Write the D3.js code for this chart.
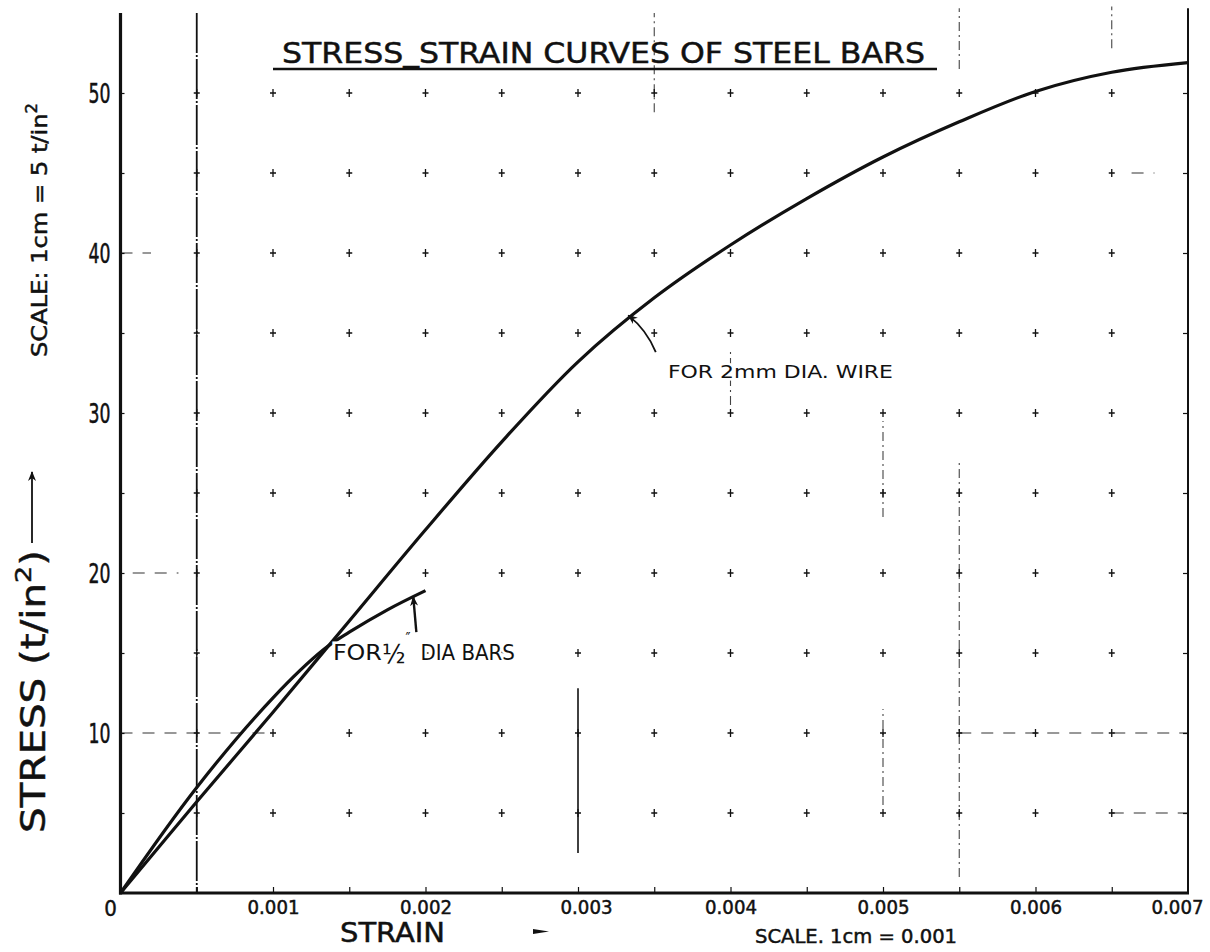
<!DOCTYPE html>
<html>
<head>
<meta charset="utf-8">
<title>Stress-strain curves of steel bars</title>
<script src="https://cdn.jsdelivr.net/npm/d3@7"></script>
<style>
	body { margin: 0; padding: 0; background: #fff; }
	svg text { font-family: "DejaVu Sans Condensed", "DejaVu Sans", sans-serif; fill: #111; stroke: #111; stroke-width: 0.45; }
	svg text.halo { paint-order: stroke; stroke: #fff; stroke-width: 5; }
</style>
</head>
<body>
<svg id="chart" width="1210" height="952"></svg>
<script>
// values
var wireStrain = [0, 0.0005, 0.001, 0.0015, 0.002, 0.0025, 0.003, 0.0035, 0.004, 0.0045, 0.005, 0.0055, 0.006, 0.0065, 0.007];
var wireStress = [0, 5.7, 11.3, 17.0, 22.7, 28.2, 33.2, 37.2, 40.5, 43.4, 46.0, 48.2, 50.1, 51.3, 51.9];

var barStrain = [0, 0.0005, 0.001, 0.00133, 0.0015, 0.00175, 0.002];
var barStress = [0, 6.6, 12.2, 15.2, 16.3, 17.7, 18.9];

var xTicks = [0.001, 0.002, 0.003, 0.004, 0.005, 0.006, 0.007];
var xTickLabels = ["0.001", "0.002", "0.003", "0.004", "0.005", "0.006", "0.007"];
var xMinor = [0.0005, 0.001, 0.0015, 0.002, 0.0025, 0.003, 0.0035, 0.004, 0.0045, 0.005, 0.0055, 0.006, 0.0065];
var yTicks = [10, 20, 30, 40, 50];
var yTickLabels = ["10", "20", "30", "40", "50"];
var yMinor = [5, 10, 15, 20, 25, 30, 35, 40, 45, 50];

// leftovers of the graph paper rulings: [strain, stress from, stress to]
var vRules = [[0.0035, 48.8, 55], [0.0055, 51.5, 55.3], [0.0065, 52.8, 55.4], [0.005, 23.5, 29.5], [0.005, 5.5, 11.5], [0.0055, 1, 27], [0.004, 30.5, 34]];
// [stress, strain from, strain to]
var hRules = [[10, 0, 0.001], [10, 0.0055, 0.007], [20, 0.00008, 0.00038], [40, 0, 0.0002], [5, 0.0065, 0.007], [45, 0.00663, 0.00678]];

var svg = d3.select("#chart");

var x = d3.scaleLinear().domain([0, 0.007]).range([120.5, 1188]);
var y = d3.scaleLinear().domain([0, 55]).range([893, 13]);

var defs = svg.append("defs");
defs.append("marker")
	.attr("id", "head")
	.attr("viewBox", "0 0 10 10")
	.attr("refX", 9).attr("refY", 5)
	.attr("markerWidth", 10).attr("markerHeight", 10)
	.attr("markerUnits", "userSpaceOnUse")
	.attr("orient", "auto")
	.append("path")
	.attr("d", "M0,1 L10,5 L0,9 L3,5 Z")
	.attr("fill", "#111");

// faint rulings
svg.append("g").selectAll("line").data(vRules).enter().append("line")
	.attr("x1", function(d) { return x(d[0]); })
	.attr("x2", function(d) { return x(d[0]); })
	.attr("y1", function(d) { return y(d[1]); })
	.attr("y2", function(d) { return y(d[2]); })
	.attr("stroke", "#444").attr("stroke-width", 1.1)
	.attr("stroke-dasharray", "9,4,2,4");

svg.append("g").selectAll("line").data(hRules).enter().append("line")
	.attr("x1", function(d) { return x(d[1]); })
	.attr("x2", function(d) { return x(d[2]); })
	.attr("y1", function(d) { return y(d[0]); })
	.attr("y2", function(d) { return y(d[0]); })
	.attr("stroke", "#333").attr("stroke-width", 1.2)
	.attr("stroke-dasharray", "12,10");

// the strong rulings at 0.0005 and 0.003
svg.append("line")
	.attr("x1", x(0.0005)).attr("x2", x(0.0005))
	.attr("y1", y(55)).attr("y2", y(0))
	.attr("stroke", "#111").attr("stroke-width", 1.8)
	.attr("stroke-dasharray", "40,2,2,2");
svg.append("line")
	.attr("x1", x(0.003)).attr("x2", x(0.003))
	.attr("y1", y(12.8)).attr("y2", y(2.5))
	.attr("stroke", "#111").attr("stroke-width", 1.6);

// grid crosses
var pts = [];
xMinor.forEach(function(s) { yMinor.forEach(function(t) { pts.push([s, t]); }); });
svg.append("g").selectAll("path").data(pts).enter().append("path")
	.attr("d", function(d) {
		var px = x(d[0]), py = y(d[1]);
		return "M" + (px - 3) + "," + py + "h6M" + px + "," + (py - 4) + "v8";
	})
	.attr("stroke", "#111").attr("stroke-width", 1.3);

// axes frame
svg.append("line")
	.attr("x1", x(0)).attr("x2", x(0)).attr("y1", y(55)).attr("y2", y(0) + 1.5)
	.attr("stroke", "#111").attr("stroke-width", 3.2);
svg.append("line")
	.attr("x1", x(0) - 1.5).attr("x2", x(0.007) + 1).attr("y1", y(0)).attr("y2", y(0))
	.attr("stroke", "#111").attr("stroke-width", 3.2);
svg.append("line")
	.attr("x1", x(0.007)).attr("x2", x(0.007)).attr("y1", y(55.3)).attr("y2", y(0))
	.attr("stroke", "#111").attr("stroke-width", 2);

// small ticks along the frame
function tickStyle(g) {
	g.select(".domain").remove();
	g.selectAll("line").attr("stroke", "#111").attr("stroke-width", 1.2);
}
svg.append("g").attr("transform", "translate(" + x(0) + ",0)")
	.call(d3.axisRight(y).tickValues(yMinor).tickSize(4).tickFormat(""))
	.call(tickStyle);
svg.append("g").attr("transform", "translate(" + x(0.007) + ",0)")
	.call(d3.axisLeft(y).tickValues(yMinor).tickSize(5).tickFormat(""))
	.call(tickStyle);
svg.append("g").attr("transform", "translate(0," + y(0) + ")")
	.call(d3.axisTop(x).tickValues(xMinor).tickSize(6).tickFormat(""))
	.call(tickStyle);

// tick labels
var xAxis = d3.axisBottom(x).tickValues(xTicks).tickSize(0)
	.tickFormat(function(d, i) { return xTickLabels[i]; });
svg.append("g").attr("transform", "translate(0," + y(0) + ")").call(xAxis)
	.call(function(g) {
		g.select(".domain").remove();
		g.selectAll("text")
			.attr("y", 21).attr("dy", null)
			.attr("dx", function(d) { return d === 0.007 ? -11 : (d === 0.003 ? 8 : 0); })
			.attr("font-size", 19)
			.attr("textLength", 52).attr("lengthAdjust", "spacingAndGlyphs")
			.attr("fill", "#111")
			.attr("font-family", null);
	});

var yAxis = d3.axisLeft(y).tickValues(yTicks).tickSize(0)
	.tickFormat(function(d, i) { return yTickLabels[i]; });
svg.append("g").attr("transform", "translate(" + x(0) + ",0)").call(yAxis)
	.call(function(g) {
		g.select(".domain").remove();
		g.selectAll("text")
			.attr("x", -10).attr("dy", "0.36em")
			.attr("font-size", 26)
			.attr("textLength", 22).attr("lengthAdjust", "spacingAndGlyphs")
			.attr("fill", "#111")
			.attr("font-family", null);
	});

svg.append("text")
	.attr("x", x(0) - 10).attr("y", y(0) + 23)
	.attr("text-anchor", "middle")
	.attr("font-size", 22)
	.text("0");

// curves
var line = d3.line()
	.x(function(d) { return x(d[0]); })
	.y(function(d) { return y(d[1]); })
	.curve(d3.curveCatmullRom.alpha(0.5));

svg.append("path")
	.datum(wireStrain.map(function(s, i) { return [s, wireStress[i]]; }))
	.attr("d", line)
	.attr("fill", "none").attr("stroke", "#111").attr("stroke-width", 3.2)
	.attr("stroke-linejoin", "round");

svg.append("path")
	.datum(barStrain.map(function(s, i) { return [s, barStress[i]]; }))
	.attr("d", line)
	.attr("fill", "none").attr("stroke", "#111").attr("stroke-width", 3.2)
	.attr("stroke-linejoin", "round");

// title
var title = svg.append("text")
	.attr("x", 282).attr("y", 63)
	.attr("font-size", 29)
	.attr("textLength", 643).attr("lengthAdjust", "spacingAndGlyphs");
title.append("tspan").text("STRESS");
title.append("tspan").attr("dy", -2).text("_");
title.append("tspan").attr("dy", 2).text("STRAIN CURVES OF STEEL BARS");
svg.append("line")
	.attr("x1", 273).attr("x2", 937).attr("y1", 69).attr("y2", 69)
	.attr("stroke", "#111").attr("stroke-width", 2.6);

// annotations
svg.append("path")
	.attr("d", "M" + x(0.00351) + "," + y(33.8) + " Q" + x(0.00345) + "," + y(35.2) + " " + x(0.00333) + "," + y(36.1))
	.attr("fill", "none").attr("stroke", "#111").attr("stroke-width", 1.8)
	.attr("marker-end", "url(#head)");
svg.append("text").attr("class", "halo")
	.attr("x", x(0.00359)).attr("y", y(32.2))
	.attr("font-size", 18)
	.attr("textLength", 225).attr("lengthAdjust", "spacingAndGlyphs")
	.text("FOR 2mm DIA. WIRE");

svg.append("line")
	.attr("x1", x(0.00194)).attr("y1", y(16.3))
	.attr("x2", x(0.00192)).attr("y2", y(18.5))
	.attr("stroke", "#111").attr("stroke-width", 2.4)
	.attr("marker-end", "url(#head)");

var bar = svg.append("text").attr("class", "halo")
	.attr("x", x(0.001393)).attr("y", y(14.56))
	.attr("font-size", 22);
bar.append("tspan").attr("textLength", 49).attr("lengthAdjust", "spacingAndGlyphs").text("FOR");
bar.append("tspan").attr("font-size", 27).attr("dy", 3).text("½");
bar.append("tspan").attr("font-size", 15).attr("dy", -19).text("″");
bar.append("tspan").attr("dy", 16).attr("dx", 10).text("DIA BARS");

// axis titles
var yl = svg.append("text")
	.attr("transform", "translate(45,833) rotate(-90)")
	.attr("font-size", 33)
	.attr("textLength", 283).attr("lengthAdjust", "spacingAndGlyphs");
yl.append("tspan").text("STRESS (t/in");
yl.append("tspan").attr("dy", -14).attr("font-size", 22).text("2");
yl.append("tspan").attr("dy", 14).text(")");
svg.append("line")
	.attr("x1", 32).attr("x2", 32).attr("y1", 543).attr("y2", 472)
	.attr("stroke", "#111").attr("stroke-width", 1.8)
	.attr("marker-end", "url(#head)");

var ys = svg.append("text")
	.attr("transform", "translate(47,357) rotate(-90)")
	.attr("font-size", 22)
	.attr("textLength", 254).attr("lengthAdjust", "spacingAndGlyphs");
ys.append("tspan").text("SCALE: 1cm = 5 t/in");
ys.append("tspan").attr("dy", -10).attr("font-size", 15).text("2");

svg.append("text")
	.attr("x", 340).attr("y", y(0) + 49)
	.attr("font-size", 27)
	.attr("textLength", 105).attr("lengthAdjust", "spacingAndGlyphs")
	.text("STRAIN");
svg.append("path")
	.attr("d", "M533," + (y(0) + 36) + "l16,2.5l-16,2.5z")
	.attr("fill", "#111");

svg.append("text")
	.attr("x", 755).attr("y", y(0) + 50)
	.attr("font-size", 20)
	.attr("textLength", 202).attr("lengthAdjust", "spacingAndGlyphs")
	.text("SCALE. 1cm = 0.001");
</script>
</body>
</html>
